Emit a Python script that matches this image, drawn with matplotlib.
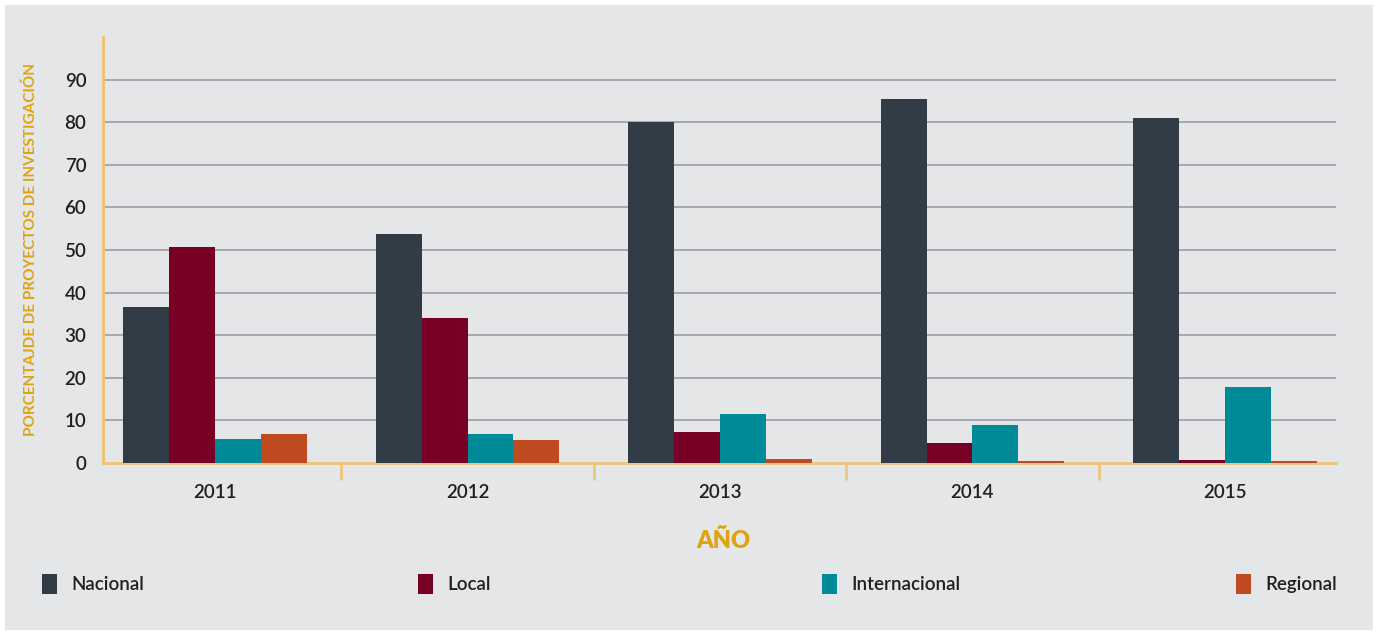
import numpy as np
import matplotlib
matplotlib.use("Agg")
import matplotlib.pyplot as plt
from matplotlib.patches import Rectangle, Patch

# porcentaje de proyectos de investigación por alcance y año
years = ["2011", "2012", "2013", "2014", "2015"]
series = ["Nacional", "Local", "Internacional", "Regional"]
nacional = [36.6, 53.7, 80.0, 85.5, 81.1]
local = [50.7, 34.0, 7.3, 4.8, 0.8]
internacional = [5.7, 6.9, 11.5, 9.0, 17.9]
regional = [6.9, 5.5, 1.0, 0.4, 0.4]
colors = ["#323c47", "#780024", "#008997", "#bf4a1f"]

BG = "#e5e6e8"
GOLD = "#dea40f"
AXIS = "#ecc67a"
GRID = "#9c9da0"
TXT = "#231f20"

plt.rcParams["font.family"] = ["Lato", "DejaVu Sans"]
plt.rcParams["font.weight"] = "semibold"

fig = plt.figure(figsize=(13.78, 6.32), dpi=100, facecolor="white")
W, H = 1378, 632
fig.patches.append(Rectangle((5 / W, 2 / H), 1368 / W, 625 / H, transform=fig.transFigure,
                             facecolor=BG, edgecolor="none", zorder=-10))

ax = fig.add_axes([103 / W, (H - 463) / H, 1233 / W, 426 / H])
ax.set_facecolor("none")

x = np.arange(len(years))
w = 0.182
values = [nacional, local, internacional, regional]
for k, (vals, c, name) in enumerate(zip(values, colors, series)):
    ax.bar(x + (k - 1.5) * w, vals, width=w, color=c, label=name, zorder=3, linewidth=0)

ax.set_xlim(-0.444, 4.44)
ax.set_ylim(0, 100)

ax.set_yticks(np.arange(0, 100, 10))
ax.tick_params(axis="y", length=0, pad=12, labelsize=13.5, labelcolor=TXT)
for y in range(10, 100, 10):
    ax.axhline(y, color=GRID, lw=1.2, zorder=1)

ax.set_xticks(x)
ax.set_xticklabels(years)
ax.set_xticks(x[:-1] + 0.5, minor=True)
ax.tick_params(axis="x", which="major", length=0, pad=15, labelsize=13.5, labelcolor=TXT)
ax.tick_params(axis="x", which="minor", length=12, width=2, color=AXIS, direction="out")

for s in ["top", "right"]:
    ax.spines[s].set_visible(False)
for s in ["left", "bottom"]:
    ax.spines[s].set_color(AXIS)
    ax.spines[s].set_linewidth(2.2)
    ax.spines[s].set_zorder(2)

ax.set_ylabel("PORCENTAJDE DE PROYECTOS DE INVESTIGACIÓN", color=GOLD,
              fontsize=11, fontweight="bold")
ax.yaxis.set_label_coords(-0.0525, 0.5)
ax.set_xlabel("AÑO", color=GOLD, fontsize=17, fontweight="heavy")
ax.xaxis.set_label_coords(0.503, -0.155)

# leyenda: una entrada por posición
legend_x = [42, 418, 822, 1236]
for name, c, lx in zip(series, colors, legend_x):
    leg = fig.legend(handles=[Patch(facecolor=c, edgecolor="none", label=name)],
                     loc="center left", bbox_to_anchor=(lx / W, (H - 584) / H),
                     frameon=False, fontsize=13.5, handlelength=0.8, handleheight=1.2,
                     handletextpad=0.75, borderaxespad=0, borderpad=0)
    for t in leg.get_texts():
        t.set_color(TXT)

fig.savefig("out.png", dpi=100, facecolor=fig.get_facecolor())
